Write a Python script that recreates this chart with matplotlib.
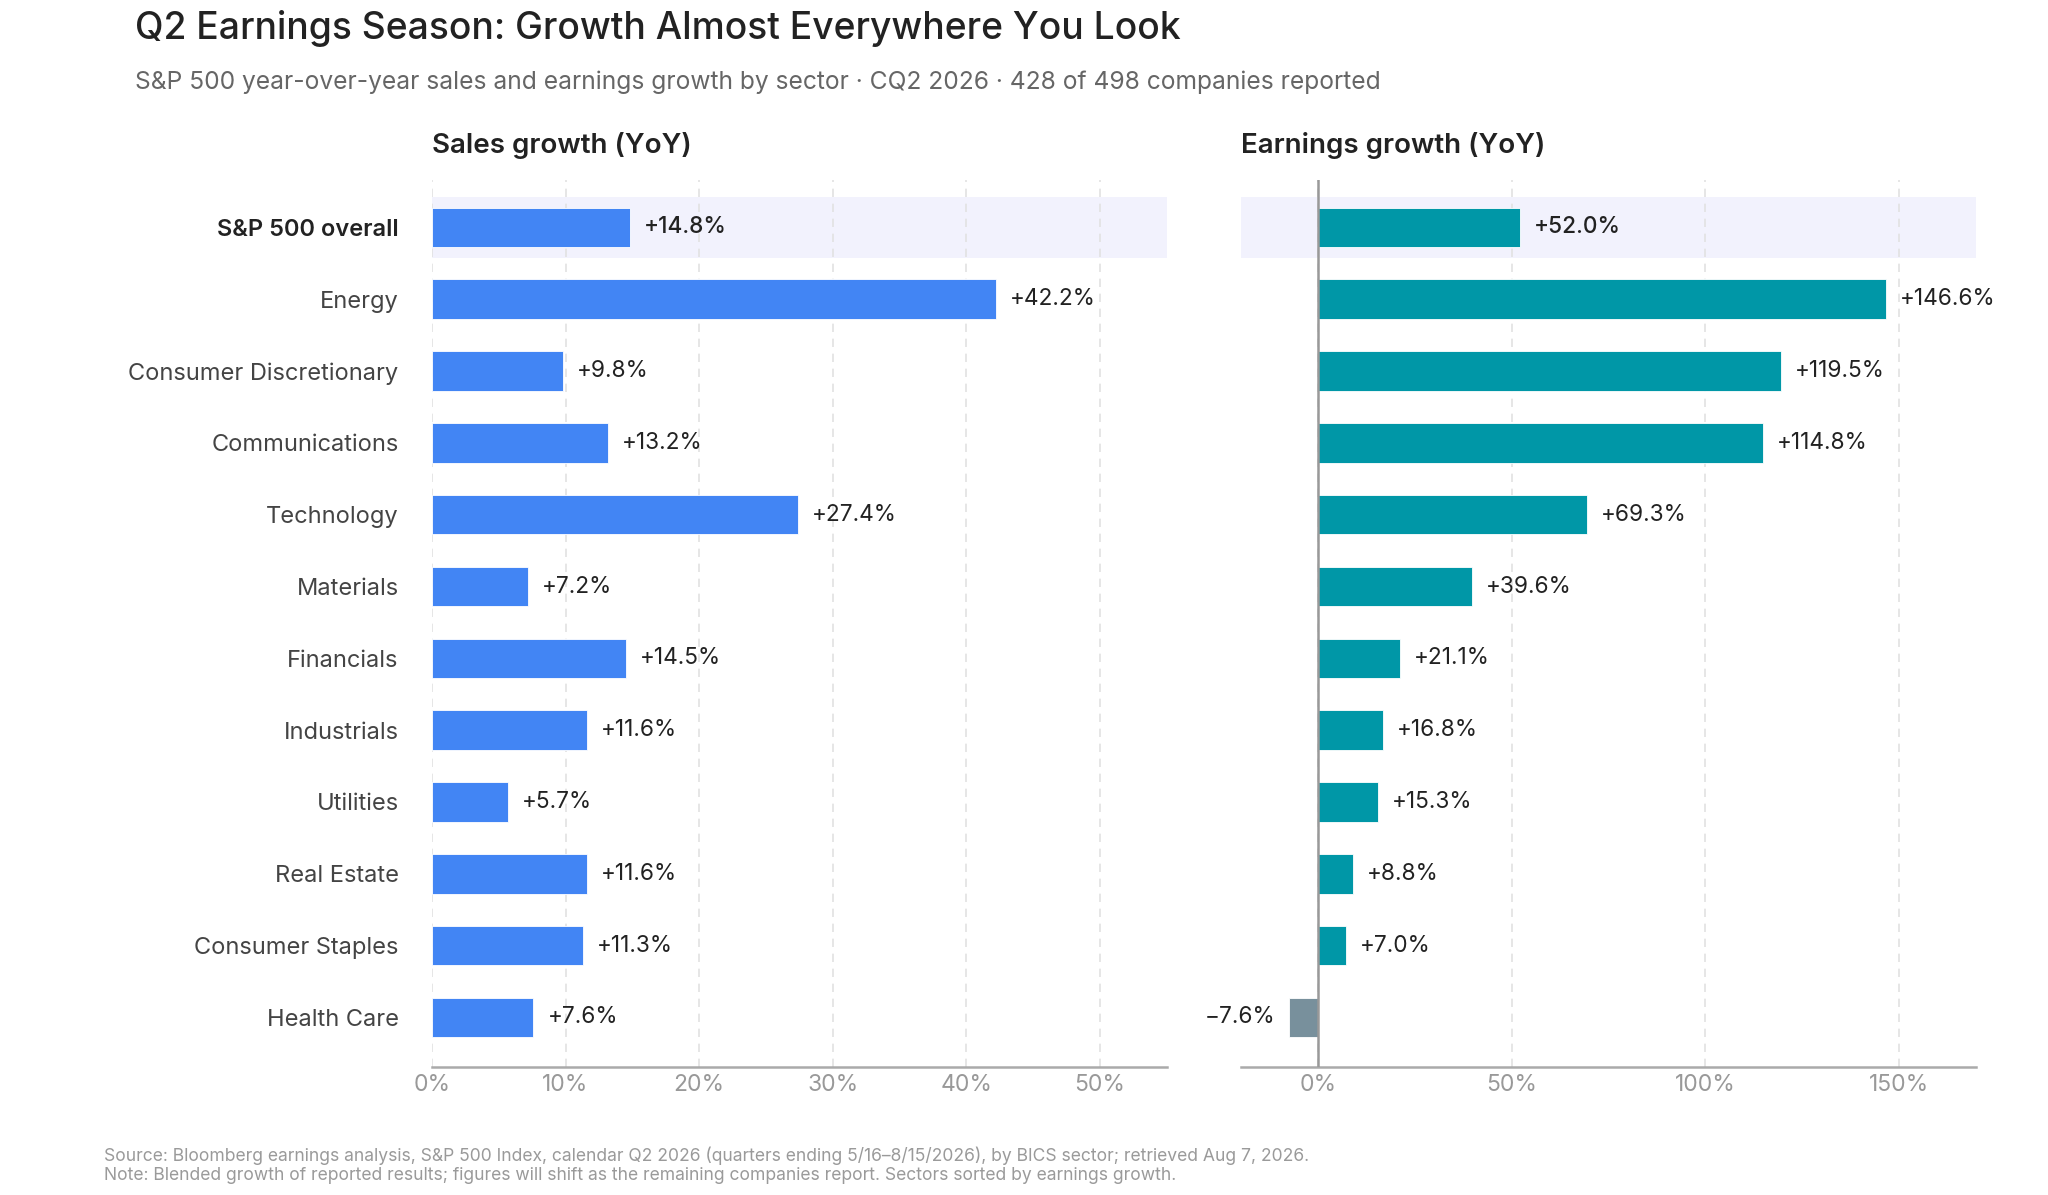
import matplotlib.pyplot as plt
import numpy as np

plt.rcParams['font.family'] = ['Inter', 'DejaVu Sans']

# data
categories = ['S&P 500 overall', 'Energy', 'Consumer Discretionary', 'Communications',
              'Technology', 'Materials', 'Financials', 'Industrials', 'Utilities',
              'Real Estate', 'Consumer Staples', 'Health Care']
sales = [14.8, 42.2, 9.8, 13.2, 27.4, 7.2, 14.5, 11.6, 5.7, 11.6, 11.3, 7.6]
earnings = [52.0, 146.6, 119.5, 114.8, 69.3, 39.6, 21.1, 16.8, 15.3, 8.8, 7.0, -7.6]
sales_ticks = [0, 10, 20, 30, 40, 50]
earn_ticks = [0, 50, 100, 150]

blue = '#4285f4'
teal = '#0097a7'
neg_gray = '#78909c'
band = '#f2f2fd'

fig = plt.figure(figsize=(20.48, 11.95), dpi=100)
ax1 = fig.add_axes([0.2109, 0.1071, 0.3589, 0.7423])
ax2 = fig.add_axes([0.606, 0.1071, 0.3589, 0.7423])

y = np.arange(len(categories))


def fmt(v):
    if v < 0:
        return '\u2212%.1f%%' % abs(v)
    return '+%.1f%%' % v


def style(ax, ticks, lim):
    ax.set_xlim(*lim)
    ax.set_ylim(11.69, -0.66)
    ax.axhspan(-0.42, 0.42, color=band, zorder=0, lw=0)
    for t in ticks:
        ax.axvline(t, color='#e2e2e2', lw=1.2, ls=(0, (5, 4)), zorder=1)
    ax.set_xticks(ticks)
    ax.set_xticklabels(['%d%%' % t for t in ticks])
    ax.tick_params(axis='x', length=0, pad=5, labelsize=16.5, labelcolor='#999999')
    for s in ['top', 'right', 'left']:
        ax.spines[s].set_visible(False)
    ax.spines['bottom'].set_color('#aaaaaa')
    ax.spines['bottom'].set_linewidth(1.8)


# sales panel
style(ax1, sales_ticks, (0, 55))
ax1.barh(y, sales, height=0.55, color=blue, edgecolor='white', lw=0.6, zorder=2)
for i, v in enumerate(sales):
    ax1.annotate(fmt(v), (v, i), xytext=(10, 0), textcoords='offset points',
                 va='center', ha='left', fontsize=16.3, color='#222222',
                 fontweight='medium' if i == 0 else 'normal')
ax1.set_yticks(y)
ax1.set_yticklabels(categories)
ax1.tick_params(axis='y', length=0, pad=24, labelsize=17, labelcolor='#444444')
ax1.get_yticklabels()[0].set_fontweight('semibold')
ax1.get_yticklabels()[0].set_color('#222222')

# earnings panel
style(ax2, earn_ticks, (-20, 170))
colors = [teal if v >= 0 else neg_gray for v in earnings]
ax2.barh(y, earnings, height=0.55, color=colors, edgecolor='white', lw=0.6, zorder=2)
ax2.axvline(0, color='#999999', lw=1.8, zorder=3)
for i, v in enumerate(earnings):
    ax2.annotate(fmt(v), (v, i), xytext=(10 if v >= 0 else -10, 0), textcoords='offset points',
                 va='center', ha='left' if v >= 0 else 'right', fontsize=16.3,
                 color='#222222', fontweight='medium' if i == 0 else 'normal')
ax2.set_yticks([])

# panel titles
fig.text(0.2109, 0.878, 'Sales growth (YoY)', fontsize=20, fontweight='semibold',
         color='#222222', va='center')
fig.text(0.606, 0.878, 'Earnings growth (YoY)', fontsize=20, fontweight='semibold',
         color='#222222', va='center')

# titles
fig.text(0.066, 0.976, 'Q2 Earnings Season: Growth Almost Everywhere You Look',
         fontsize=26.8, fontweight='medium', color='#222222', va='center')
fig.text(0.066, 0.931, 'S&P 500 year-over-year sales and earnings growth by sector \u00b7 '
         'CQ2 2026 \u00b7 428 of 498 companies reported',
         fontsize=17.7, color='#666666', va='center')

# footer
fig.text(0.0508, 0.033, 'Source: Bloomberg earnings analysis, S&P 500 Index, calendar Q2 2026 '
         '(quarters ending 5/16\u20138/15/2026), by BICS sector; retrieved Aug 7, 2026.',
         fontsize=12.6, color='#9a9a9a', va='center')
fig.text(0.0508, 0.016, 'Note: Blended growth of reported results; figures will shift as the '
         'remaining companies report. Sectors sorted by earnings growth.',
         fontsize=12.6, color='#9a9a9a', va='center')

fig.savefig('out.png', dpi=100)
